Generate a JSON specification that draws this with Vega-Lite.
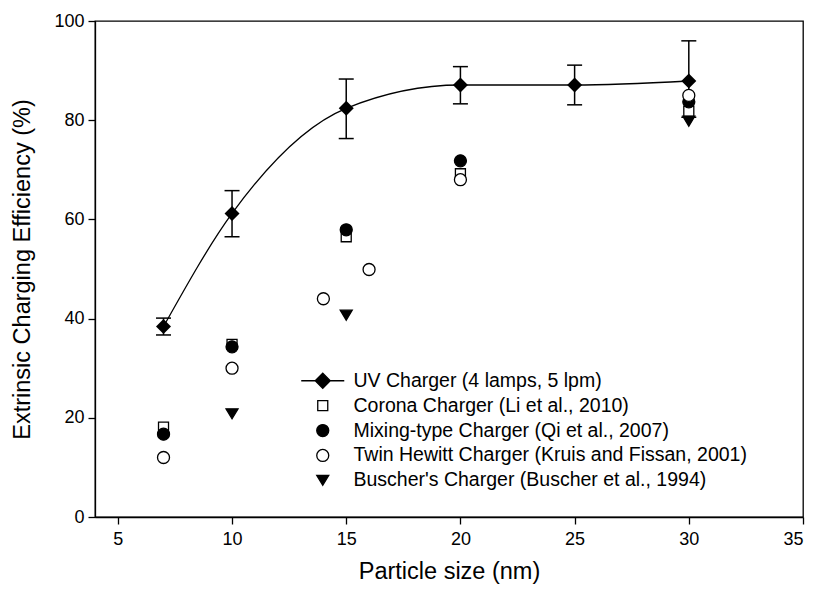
{
  "$schema": "https://vega.github.io/schema/vega-lite/v6.json",
  "width": 708,
  "height": 496,
  "autosize": {"type": "none"},
  "padding": {"left": 95, "top": 21, "right": 12, "bottom": 75},
  "background": "white",
  "config": {
    "font": "Liberation Sans",
    "view": {"stroke": "black", "strokeWidth": 1.3},
    "axis": {
      "grid": false,
      "domainColor": "black",
      "domainWidth": 1.3,
      "tickColor": "black",
      "tickWidth": 1.3,
      "tickSize": 7,
      "labelColor": "black",
      "labelFontSize": 18,
      "labelFont": "Liberation Sans",
      "titleColor": "black",
      "titleFontSize": 23.5,
      "titleFont": "Liberation Sans",
      "titleFontWeight": "normal"
    },
    "legend": {
      "orient": "none",
      "legendX": 218,
      "legendY": 350,
      "labelFontSize": 19.5,
      "labelFont": "Liberation Sans",
      "labelColor": "black",
      "symbolSize": 225,
      "symbolStrokeWidth": 1.3,
      "symbolStrokeColor": "black",
      "rowPadding": 3.9,
      "labelOffset": 21,
      "padding": 0,
      "labelLimit": 600
    }
  },
  "data": {
    "values": [
      {"series": "UV Charger (4 lamps, 5 lpm)", "x": 7, "y": 38.4, "lo": 36.7, "hi": 40.1},
      {"series": "UV Charger (4 lamps, 5 lpm)", "x": 10, "y": 61.2, "lo": 56.5, "hi": 65.8},
      {"series": "UV Charger (4 lamps, 5 lpm)", "x": 15, "y": 82.4, "lo": 76.3, "hi": 88.3},
      {"series": "UV Charger (4 lamps, 5 lpm)", "x": 20, "y": 87.1, "lo": 83.3, "hi": 90.8},
      {"series": "UV Charger (4 lamps, 5 lpm)", "x": 25, "y": 87.1, "lo": 83.1, "hi": 91.1},
      {"series": "UV Charger (4 lamps, 5 lpm)", "x": 30, "y": 87.9, "lo": 80.6, "hi": 96.0},
      {"series": "Corona Charger (Li et al., 2010)", "x": 7, "y": 18.1},
      {"series": "Corona Charger (Li et al., 2010)", "x": 10, "y": 34.8},
      {"series": "Corona Charger (Li et al., 2010)", "x": 15, "y": 56.5},
      {"series": "Corona Charger (Li et al., 2010)", "x": 20, "y": 69.2},
      {"series": "Corona Charger (Li et al., 2010)", "x": 30, "y": 81.8},
      {"series": "Mixing-type Charger (Qi et al., 2007)", "x": 7, "y": 16.7},
      {"series": "Mixing-type Charger (Qi et al., 2007)", "x": 10, "y": 34.3},
      {"series": "Mixing-type Charger (Qi et al., 2007)", "x": 15, "y": 57.9},
      {"series": "Mixing-type Charger (Qi et al., 2007)", "x": 20, "y": 71.8},
      {"series": "Mixing-type Charger (Qi et al., 2007)", "x": 30, "y": 83.7},
      {"series": "Twin Hewitt Charger (Kruis and Fissan, 2001)", "x": 7, "y": 12.0},
      {"series": "Twin Hewitt Charger (Kruis and Fissan, 2001)", "x": 10, "y": 30.0},
      {"series": "Twin Hewitt Charger (Kruis and Fissan, 2001)", "x": 14, "y": 44.0},
      {"series": "Twin Hewitt Charger (Kruis and Fissan, 2001)", "x": 16, "y": 49.9},
      {"series": "Twin Hewitt Charger (Kruis and Fissan, 2001)", "x": 20, "y": 68.0},
      {"series": "Twin Hewitt Charger (Kruis and Fissan, 2001)", "x": 30, "y": 85.0},
      {"series": "Buscher's Charger (Buscher et al., 1994)", "x": 10, "y": 20.8},
      {"series": "Buscher's Charger (Buscher et al., 1994)", "x": 15, "y": 40.7},
      {"series": "Buscher's Charger (Buscher et al., 1994)", "x": 30, "y": 79.8}
    ]
  },
  "encoding": {
    "x": {
      "field": "x",
      "type": "quantitative",
      "scale": {"domain": [4, 35], "nice": false, "zero": false},
      "axis": {
        "values": [5, 10, 15, 20, 25, 30, 35],
        "title": "Particle size (nm)",
        "labelPadding": 6.4,
        "titleBaseline": "middle",
        "titleY": 54,
        "encode": {"ticks": {"update": {"y2": {"value": -7}}}}
      }
    },
    "y": {
      "field": "y",
      "type": "quantitative",
      "title": "Extrinsic Charging Efficiency (%)",
      "scale": {"domain": [0, 100], "nice": false},
      "axis": {
        "values": [0, 20, 40, 60, 80, 100],
        "labelPadding": 4,
        "titleBaseline": "middle",
        "titleX": -73,
        "titleY": 248,
        "encode": {"ticks": {"update": {"x2": {"value": 7}}}}
      }
    }
  },
  "layer": [
    {
      "transform": [{"filter": "datum.series === 'UV Charger (4 lamps, 5 lpm)'"}],
      "mark": {"type": "line", "interpolate": "monotone", "color": "black", "strokeWidth": 1.3}
    },
    {
      "transform": [{"filter": "datum.series === 'UV Charger (4 lamps, 5 lpm)'"}],
      "mark": {"type": "rule", "color": "black", "strokeWidth": 1.5},
      "encoding": {
        "y": {"field": "lo", "type": "quantitative", "title": "Extrinsic Charging Efficiency (%)"},
        "y2": {"field": "hi"}
      }
    },
    {
      "transform": [{"filter": "datum.series === 'UV Charger (4 lamps, 5 lpm)'"}],
      "mark": {"type": "point", "shape": "M-1,0L1,0", "size": 225, "stroke": "black", "strokeWidth": 1.5, "filled": false, "opacity": 1},
      "encoding": {
        "y": {"field": "lo", "type": "quantitative", "title": "Extrinsic Charging Efficiency (%)"}
      }
    },
    {
      "transform": [{"filter": "datum.series === 'UV Charger (4 lamps, 5 lpm)'"}],
      "mark": {"type": "point", "shape": "M-1,0L1,0", "size": 225, "stroke": "black", "strokeWidth": 1.5, "filled": false, "opacity": 1},
      "encoding": {
        "y": {"field": "hi", "type": "quantitative", "title": "Extrinsic Charging Efficiency (%)"}
      }
    },
    {
      "transform": [{"filter": "datum.series !== 'UV Charger (4 lamps, 5 lpm)'"}],
      "mark": {"type": "point", "filled": true, "strokeWidth": 1.3, "size": 225, "opacity": 1},
      "encoding": {
        "shape": {
          "field": "series",
          "type": "nominal",
          "title": null,
          "scale": {
            "domain": ["UV Charger (4 lamps, 5 lpm)", "Corona Charger (Li et al., 2010)", "Mixing-type Charger (Qi et al., 2007)", "Twin Hewitt Charger (Kruis and Fissan, 2001)", "Buscher's Charger (Buscher et al., 1994)"],
            "range": [
              "M-2.87,0L2.87,0M-1,0L0,-1L1,0L0,1Z",
              "M-0.667,-0.667L0.667,-0.667L0.667,0.667L-0.667,0.667Z",
              "M-0.8,0A0.8,0.8 0 1,0 0.8,0A0.8,0.8 0 1,0 -0.8,0Z",
              "M-0.8,0A0.8,0.8 0 1,0 0.8,0A0.8,0.8 0 1,0 -0.8,0Z",
              "M-0.8,-0.667L0.8,-0.667L0,0.667Z"
            ]
          }
        },
        "fill": {
          "field": "series",
          "type": "nominal",
          "title": null,
          "scale": {
            "domain": ["UV Charger (4 lamps, 5 lpm)", "Corona Charger (Li et al., 2010)", "Mixing-type Charger (Qi et al., 2007)", "Twin Hewitt Charger (Kruis and Fissan, 2001)", "Buscher's Charger (Buscher et al., 1994)"],
            "range": ["black", "white", "black", "white", "black"]
          }
        },
        "stroke": {
          "field": "series",
          "type": "nominal",
          "title": null,
          "scale": {
            "domain": ["UV Charger (4 lamps, 5 lpm)", "Corona Charger (Li et al., 2010)", "Mixing-type Charger (Qi et al., 2007)", "Twin Hewitt Charger (Kruis and Fissan, 2001)", "Buscher's Charger (Buscher et al., 1994)"],
            "range": ["black", "black", "black", "black", "black"]
          }
        }
      }
    },
    {
      "transform": [{"filter": "datum.series === 'UV Charger (4 lamps, 5 lpm)'"}],
      "mark": {"type": "point", "shape": "diamond", "filled": true, "fill": "black", "strokeWidth": 0, "size": 225, "opacity": 1}
    }
  ]
}
